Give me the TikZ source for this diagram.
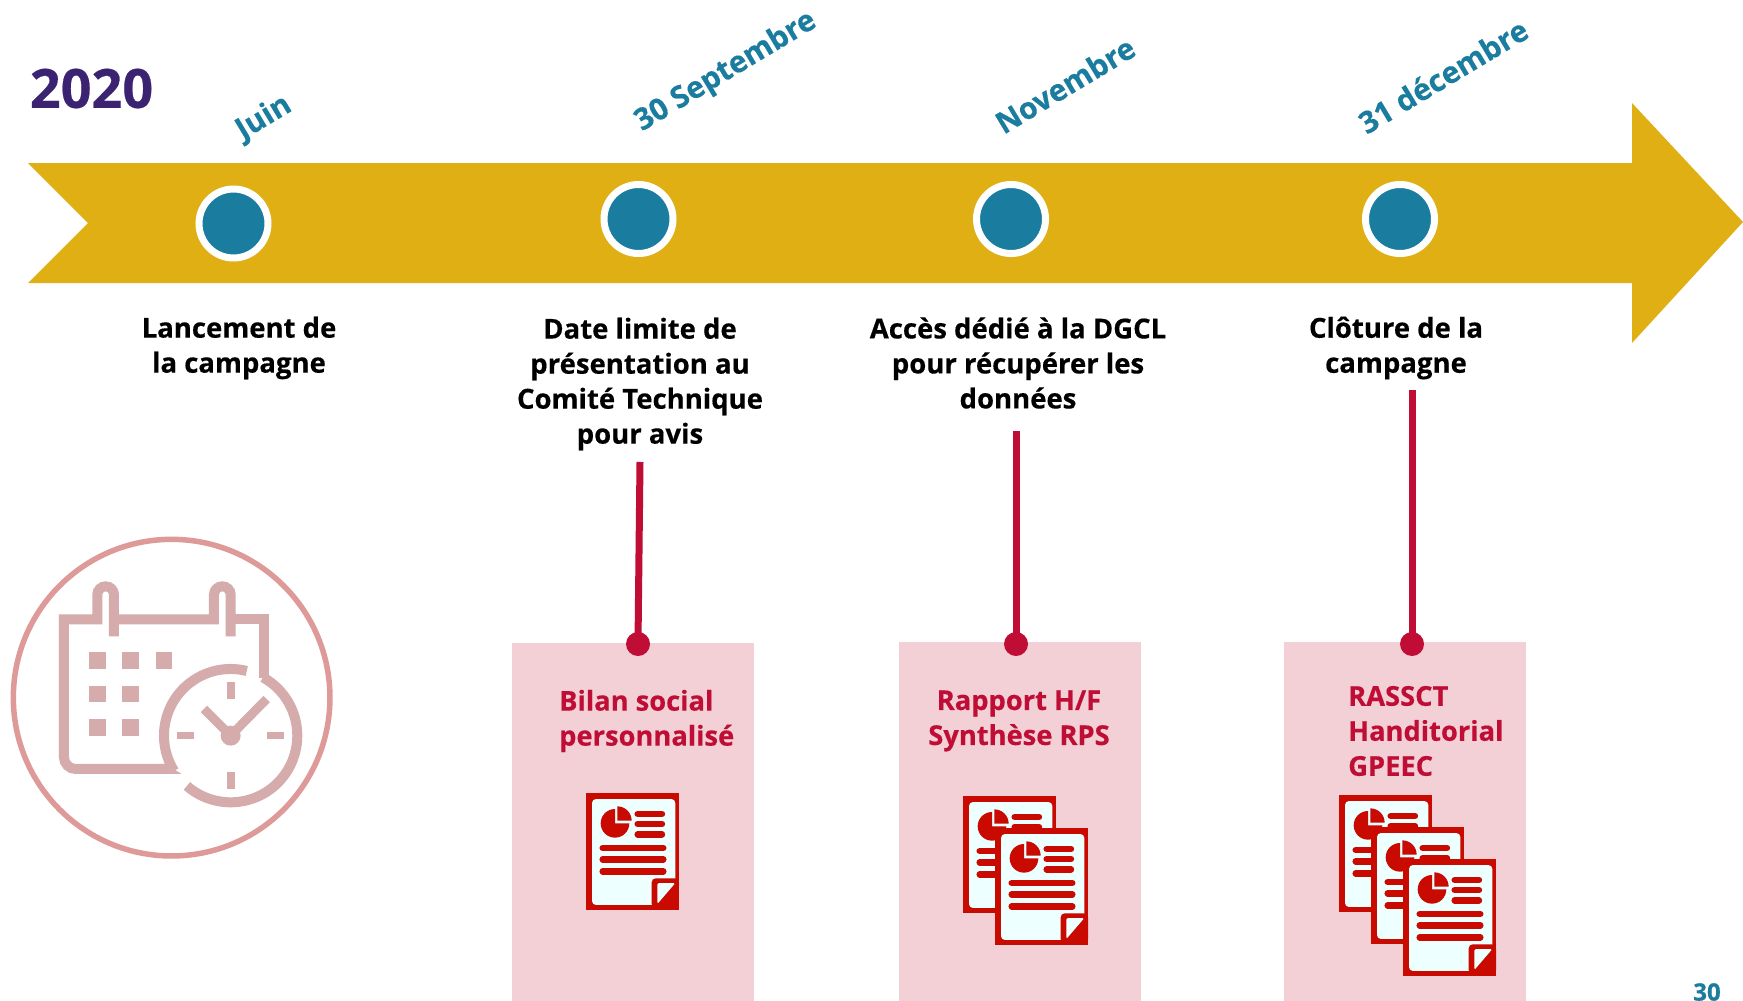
\documentclass[tikz,border=0pt]{standalone}
\usepackage{fontspec}
\setmainfont[BoldFeatures={FakeBold=0.4}]{Open Sans}
\definecolor{gold}{HTML}{E0AF14}
\definecolor{teal1}{HTML}{1A7C9E}
\definecolor{purp}{HTML}{3B2372}
\definecolor{crim}{HTML}{C00D35}
\definecolor{pinkbox}{HTML}{F2D0D6}
\definecolor{docred}{HTML}{C80A00}
\definecolor{docwhite}{HTML}{EDFFFF}
\definecolor{ringc}{HTML}{DE9A98}
\definecolor{calc}{HTML}{D5ABAB}
\tikzset{
  dotnode/.style={circle,fill=teal1,draw=white,line width=7pt,minimum size=69pt,inner sep=0pt},
  datelabel/.style={text=teal1,font=\bfseries\fontsize{30}{32}\selectfont,rotate=31,inner sep=0pt},
  desc/.style={text=black,font=\bfseries\fontsize{27.5}{35}\selectfont,align=center,inner sep=0pt},
  redtxt/.style={text=crim,font=\bfseries\fontsize{27.3}{35}\selectfont,inner sep=0pt},
  redcenter/.style={redtxt,align=center},
  redleft/.style={redtxt,align=left,anchor=west},
  stem/.style={draw=crim,line width=7pt},
  stemdot/.style={circle,fill=crim,minimum size=24pt,inner sep=0pt},
  doc/.pic={
    \begin{scope}[x=0.3333pt,y=-0.3333pt]
      \fill[docred] (0,0) rectangle (279,350);
      \fill[docwhite,rounded corners=4pt] (18,18) rectangle (268,336);
      \fill[docred,rounded corners=4pt] (197,345) -- (197,256) -- (279,256) -- (279,345) -- cycle;
      \fill[docwhite,rounded corners=1.5pt] (214,333) -- (214,270) -- (268,270) -- cycle;
      \fill[docred] (87,91) -- (87,48) arc[start angle=90,end angle=360,radius=43,y radius=-43] -- cycle;
      \fill[docred] (94,83) -- (94,40) arc[start angle=90,end angle=0,radius=43,y radius=-43] -- cycle;
      \foreach \yy in {63,93,124} {\draw[docred,line width=6.4pt,line cap=round] (155,\yy) -- (228,\yy);}
      \foreach \yy in {165,199,235} {\draw[docred,line width=6.4pt,line cap=round] (50,\yy) -- (232,\yy);}
    \end{scope}
  }
}
\begin{document}
\begin{tikzpicture}[x=1pt,y=-1pt]
\useasboundingbox (0,0) rectangle (1743,1001);
\fill[white] (0,0) rectangle (1743,1001);
% arrow
\fill[gold] (28,163) -- (1632,163) -- (1632,103) -- (1743,222) -- (1632,343) -- (1632,283) -- (28,283) -- (88,223) -- cycle;
% milestones
\node[dotnode] (m1) at (233.5,223.5) {};
\node[dotnode] (m2) at (638.5,219) {};
\node[dotnode] (m3) at (1011,219) {};
\node[dotnode] (m4) at (1400,219) {};
% year and dates
\node[text=purp,font=\bfseries\fontsize{54}{60}\selectfont,inner sep=0pt] (year) at (91.5,88.5) {2020};
\node[datelabel] (d1) at (264,118) {Juin};
\node[datelabel] (d2) at (726,72) {30 Septembre};
\node[datelabel] (d3) at (1065,85) {Novembre};
\node[datelabel] (d4) at (1443,76) {31 décembre};
% descriptions
\node[desc] (t1) at (239,348) {Lancement de\\la campagne};
\node[desc] (t2) at (640,384) {Date limite de\\présentation au\\Comité Technique\\pour avis};
\node[desc] (t3) at (1018,363) {Accès dédié à la DGCL\\pour récupérer les\\données};
\node[desc] (t4) at (1396,348) {Clôture de la\\campagne};
% panels
\fill[pinkbox] (512,643) rectangle (754,1002);
\fill[pinkbox] (899,642) rectangle (1141,1002);
\fill[pinkbox] (1284,642) rectangle (1526,1002);
% stems
\coordinate (s2) at (640,462);
\coordinate (s3) at (1016,431);
\coordinate (s4) at (1412,390);
\node[stemdot] (e2) at (638,644) {};
\node[stemdot] (e3) at (1016,644) {};
\node[stemdot] (e4) at (1412,644) {};
\draw[stem] (s2) -- (e2.center);
\draw[stem] (s3) -- (e3.center);
\draw[stem] (s4) -- (e4.center);
% red labels
\node[redleft] (r1) at (559,721) {Bilan social\\personnalisé};
\node[redcenter] (r2) at (1019,721) {Rapport H/F\\Synthèse RPS};
\node[redleft] (r3) at (1348,731) {RASSCT\\Handitorial\\GPEEC};
% documents
\pic at (586,793) {doc};
\pic at (963,796) {doc};
\pic at (995,828) {doc};
\pic at (1339,795) {doc};
\pic at (1371,827) {doc};
\pic at (1403,859) {doc};
% calendar icon
\begin{scope}[shift={(0,519)},x=0.3333pt,y=-0.3333pt]
  \draw[ringc,line width=5.5pt] (515,536) circle[radius=475];
  \begin{scope}[draw=calc,line width=10pt]
    \draw (342,352) -- (342,227) arc[start angle=0,end angle=180,radius=25,y radius=-25] -- (292,301) -- (192,301) -- (192,715) arc[start angle=180,end angle=90,radius=35,y radius=35] -- (510,750);
    \draw (342,301) -- (642,301) -- (642,227) arc[start angle=180,end angle=0,radius=25,y radius=-25] -- (692,352);
    \draw (692,301) -- (792,301) -- (792,478);
    \draw (692,650) ++(76:200 and -200) arc[start angle=76,end angle=212,radius=200,y radius=-200];
    \draw (692,650) ++(229:200 and -200) arc[start angle=229,end angle=421,radius=200,y radius=-200];
    \draw[line width=8pt] (692,490) -- (692,540);
    \draw[line width=8pt] (692,760) -- (692,810);
    \draw[line width=7pt] (532,650) -- (582,650);
    \draw[line width=7pt] (802,650) -- (852,650);
    \draw[line width=9pt] (612,570) -- (692,650) -- (800,540);
  \end{scope}
  \fill[calc] (692,650) circle[radius=30];
  \fill[calc] (495,735) -- (545,765) -- (500,765) -- cycle;
  \foreach \xx/\yy in {267/400,367/400,467/400,267/500,367/500,267/600,367/600}
    \fill[calc] (\xx,\yy) rectangle ++(50,50);
\end{scope}
% page number
\node[text=teal1,font=\bfseries\fontsize{24}{25}\selectfont,inner sep=0pt] (pg) at (1707,992) {30};
\end{tikzpicture}
\end{document}
